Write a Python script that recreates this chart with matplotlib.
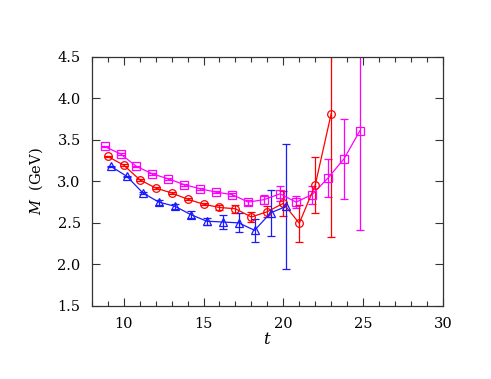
import numpy as np
import matplotlib
matplotlib.use('Agg')
import matplotlib.pyplot as plt

# masa efectiva M(t) para tres canales

# cuadrados (magenta)
t_sq = [8.8, 9.8, 10.8, 11.8, 12.8, 13.8, 14.8, 15.8, 16.8, 17.8, 18.8,
        19.8, 20.8, 21.8, 22.8, 23.8, 24.8]
m_sq = [3.42, 3.33, 3.18, 3.09, 3.03, 2.96, 2.91, 2.87, 2.84, 2.75, 2.78,
        2.85, 2.75, 2.84, 3.04, 3.27, 3.61]
e_sq = [0.01, 0.01, 0.01, 0.01, 0.01, 0.01, 0.01, 0.015, 0.02, 0.03, 0.05,
        0.09, 0.07, 0.11, 0.23, 0.48, 1.2]

# circulos (rojo)
t_ci = [9, 10, 11, 12, 13, 14, 15, 16, 17, 18, 19, 20, 21, 22, 23]
m_ci = [3.30, 3.195, 3.02, 2.92, 2.86, 2.785, 2.725, 2.685, 2.67, 2.57,
        2.635, 2.735, 2.495, 2.955, 3.815]
e_ci = [0.01, 0.01, 0.01, 0.01, 0.01, 0.01, 0.015, 0.03, 0.05, 0.06,
        0.07, 0.15, 0.22, 0.34, 1.49]

# triangulos (azul)
t_tr = [9.2, 10.2, 11.2, 12.2, 13.2, 14.2, 15.2, 16.2, 17.2, 18.2, 19.2, 20.2]
m_tr = [3.18, 3.06, 2.86, 2.75, 2.70, 2.60, 2.52, 2.51, 2.50, 2.41, 2.62, 2.70]
e_tr = [0.01, 0.01, 0.01, 0.03, 0.03, 0.04, 0.04, 0.08, 0.115, 0.14, 0.28, 0.75]

plt.rcParams['font.family'] = 'DejaVu Serif'
plt.rcParams['mathtext.fontset'] = 'dejavuserif'

fig = plt.figure(figsize=(4.91, 3.79), dpi=100)
ax = fig.add_axes([0.187, 0.193, 0.715, 0.657])

kw = dict(lw=0.9, elinewidth=0.9, capsize=3, capthick=0.9,
          mfc='none', mew=0.9)
ax.errorbar(t_sq, m_sq, yerr=e_sq, fmt='s-', color='#ff00ff', ms=5.2, **kw)
ax.errorbar(t_ci, m_ci, yerr=e_ci, fmt='o-', color='#ff0000', ms=5.5, **kw)
ax.errorbar(t_tr, m_tr, yerr=e_tr, fmt='^-', color='#1a1aff', ms=6, **kw)

ax.set_xlim(8, 30)
ax.set_ylim(1.5, 4.5)
ax.set_xticks([10, 15, 20, 25, 30])
ax.set_xticks(np.arange(8, 31, 1), minor=True)
ax.set_yticks(np.arange(1.5, 4.51, 0.5))
ax.set_yticklabels(['%.1f' % v for v in np.arange(1.5, 4.51, 0.5)])
ax.tick_params(which='both', direction='in', top=True, right=True,
               labelsize=10.5, width=0.8, color='#333333')
ax.tick_params(which='major', length=6, pad=8)
ax.tick_params(which='minor', length=3.5)
for s in ax.spines.values():
    s.set_linewidth(0.9)
    s.set_color('#333333')

ax.set_xlabel('$t$', fontsize=12, labelpad=0)
ax.set_ylabel('$M$  (GeV)', fontsize=10.5, labelpad=9)

fig.savefig('out.png', dpi=100)
